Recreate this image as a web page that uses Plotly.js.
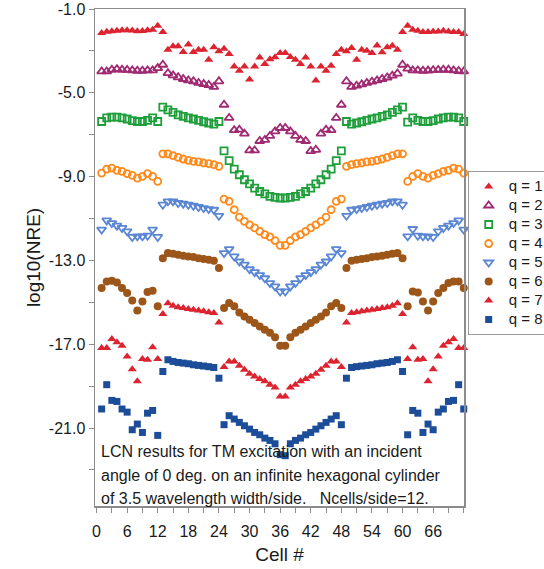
<!DOCTYPE html>
<html><head><meta charset="utf-8">
<script src="https://cdn.plot.ly/plotly-3.0.1.min.js"></script>
<style>html,body{margin:0;padding:0;background:#fff;}#chart{width:544px;height:569px;}</style>
</head><body><div id="chart"></div>
<script>
// Cell numbers (x)
const cells = [1,2,3,4,5,6,7,8,9,10,11,12,13,14,15,16,17,18,19,20,21,22,23,24,
  25,26,27,28,29,30,31,32,33,34,35,36,37,38,39,40,41,42,43,44,45,46,47,48,
  49,50,51,52,53,54,55,56,57,58,59,60,61,62,63,64,65,66,67,68,69,70,71,72];

const seriesNames = ['q = 1','q = 2','q = 3','q = 4','q = 5','q = 6','q = 7','q = 8'];

const q1 = [-2.15,-2.08,-2.06,-2.04,-2.02,-2.02,-2.03,-2.06,-2.05,-2.02,-1.99,-1.80,
  -2.10,-2.94,-2.78,-2.78,-3.05,-2.70,-3.05,-2.94,-2.94,-3.42,-2.83,-3.02,
  -2.90,-3.15,-3.74,-3.95,-3.74,-4.37,-3.74,-3.31,-3.63,-3.40,-3.30,-3.10,
  -3.10,-3.29,-3.42,-3.63,-3.31,-3.74,-4.41,-3.74,-3.95,-3.71,-3.15,-2.94,
  -3.02,-2.86,-3.42,-2.94,-2.99,-3.10,-2.74,-3.07,-2.83,-2.75,-2.94,-2.10,
  -1.80,-1.99,-2.04,-2.10,-2.10,-2.07,-2.07,-2.04,-2.07,-2.10,-2.10,-2.19];
const q2 = [-3.98,-3.98,-3.90,-3.87,-3.90,-3.91,-3.93,-3.95,-3.95,-3.93,-3.93,-3.82,
  -3.66,-4.06,-4.17,-4.26,-4.34,-4.41,-4.45,-4.53,-4.58,-4.63,-4.72,-4.45,
  -5.57,-6.20,-6.78,-6.76,-6.95,-7.75,-7.75,-7.30,-7.25,-7.06,-6.84,-6.68,
  -6.68,-6.84,-7.06,-7.25,-7.30,-7.78,-7.72,-6.95,-6.76,-6.78,-6.20,-5.57,
  -4.45,-4.72,-4.66,-4.60,-4.53,-4.47,-4.41,-4.34,-4.27,-4.18,-4.08,-3.66,
  -3.85,-3.93,-3.93,-3.95,-3.94,-3.92,-3.91,-3.90,-3.90,-3.93,-3.96,-3.98];
const q3 = [-6.37,-6.20,-6.16,-6.16,-6.20,-6.25,-6.33,-6.37,-6.37,-6.32,-6.20,-6.37,
  -5.68,-5.81,-5.93,-6.05,-6.12,-6.20,-6.25,-6.32,-6.38,-6.44,-6.49,-6.37,
  -7.77,-8.24,-8.64,-8.91,-9.15,-9.35,-9.55,-9.71,-9.82,-9.94,-9.99,-10.02,
  -10.02,-9.99,-9.94,-9.82,-9.71,-9.55,-9.35,-9.15,-8.91,-8.64,-8.24,-7.77,
  -6.37,-6.49,-6.44,-6.38,-6.32,-6.25,-6.20,-6.12,-6.05,-5.93,-5.81,-5.68,
  -6.40,-6.20,-6.32,-6.37,-6.37,-6.33,-6.25,-6.20,-6.16,-6.16,-6.20,-6.37];
const q4 = [-8.83,-8.64,-8.59,-8.70,-8.75,-8.86,-8.94,-9.07,-8.99,-8.86,-8.99,-9.23,
  -7.91,-7.91,-8.00,-8.08,-8.16,-8.22,-8.27,-8.30,-8.35,-8.38,-8.43,-8.51,
  -10.07,-10.18,-10.58,-10.93,-11.14,-11.30,-11.45,-11.61,-11.77,-11.88,-12.05,-12.28,
  -12.28,-12.05,-11.88,-11.77,-11.61,-11.45,-11.30,-11.14,-10.93,-10.58,-10.18,-10.07,
  -8.51,-8.43,-8.38,-8.35,-8.30,-8.27,-8.22,-8.16,-8.08,-8.00,-7.91,-7.91,
  -9.23,-8.99,-8.86,-8.99,-9.07,-8.94,-8.86,-8.75,-8.70,-8.59,-8.64,-8.83];
const q5 = [-11.53,-11.09,-11.22,-11.34,-11.45,-11.61,-11.88,-11.85,-11.85,-11.82,-11.53,-11.88,
  -10.34,-10.18,-10.18,-10.26,-10.29,-10.34,-10.39,-10.45,-10.50,-10.55,-10.58,-10.87,
  -12.65,-12.46,-12.81,-13.05,-13.20,-13.42,-13.56,-13.70,-13.85,-14.08,-14.24,-14.48,
  -14.48,-14.24,-14.08,-13.85,-13.70,-13.56,-13.42,-13.20,-13.05,-12.81,-12.46,-12.65,
  -10.87,-10.58,-10.55,-10.50,-10.45,-10.39,-10.34,-10.29,-10.26,-10.18,-10.18,-10.34,
  -11.85,-11.50,-11.82,-11.85,-11.85,-11.88,-11.61,-11.45,-11.34,-11.22,-11.09,-11.53];
const q6 = [-14.32,-14.00,-13.97,-14.05,-14.32,-14.56,-14.91,-15.39,-14.96,-14.51,-14.45,-15.19,
  -12.89,-12.65,-12.68,-12.73,-12.78,-12.81,-12.84,-12.89,-12.93,-12.97,-13.01,-13.36,
  -15.27,-15.03,-15.19,-15.48,-15.67,-15.83,-15.99,-16.15,-16.31,-16.45,-16.67,-17.07,
  -17.07,-16.67,-16.45,-16.31,-16.15,-15.99,-15.83,-15.67,-15.48,-15.19,-15.03,-15.27,
  -13.36,-13.01,-12.97,-12.93,-12.89,-12.84,-12.81,-12.78,-12.73,-12.68,-12.65,-12.89,
  -15.19,-14.48,-14.53,-14.96,-15.39,-14.96,-14.56,-14.32,-14.08,-14.00,-14.00,-14.32];
const q7 = [-17.18,-17.18,-16.75,-16.91,-17.07,-17.58,-18.19,-18.77,-17.71,-17.74,-17.14,-17.71,
  -15.56,-15.04,-15.16,-15.23,-15.27,-15.32,-15.35,-15.39,-15.43,-15.47,-15.51,-15.96,
  -18.09,-17.82,-17.82,-18.03,-18.22,-18.41,-18.54,-18.66,-18.77,-18.93,-19.06,-19.49,
  -19.49,-19.06,-18.93,-18.77,-18.66,-18.54,-18.41,-18.22,-18.03,-17.82,-17.82,-18.09,
  -15.96,-15.51,-15.47,-15.43,-15.39,-15.35,-15.32,-15.27,-15.23,-15.16,-15.04,-15.56,
  -17.71,-17.14,-17.74,-17.71,-18.77,-18.19,-17.58,-17.07,-16.91,-16.75,-17.18,-17.18];
const q8 = [-20.09,-18.93,-19.68,-19.73,-20.09,-20.24,-21.08,-20.81,-21.21,-20.29,-20.16,-21.35,
  -18.30,-17.74,-17.82,-17.87,-17.90,-17.93,-17.98,-18.01,-18.04,-18.07,-18.11,-18.62,
  -20.84,-20.41,-20.57,-20.73,-20.89,-21.05,-21.21,-21.32,-21.48,-21.59,-21.75,-22.27,
  -22.32,-21.75,-21.59,-21.48,-21.32,-21.21,-21.05,-20.89,-20.73,-20.57,-20.41,-20.84,
  -18.62,-18.11,-18.07,-18.04,-18.01,-17.98,-17.93,-17.90,-17.87,-17.82,-17.74,-18.30,
  -21.32,-20.16,-20.29,-21.21,-20.81,-21.08,-20.24,-20.09,-19.73,-19.68,-18.93,-20.09];

const xTickVals = [0,6,12,18,24,30,36,42,48,54,60,66];
const xTickText = ['0','6','12','18','24','30','36','42','48','54','60','66'];
const yTickVals = [-1,-5,-9,-13,-17,-21];
const yTickText = ['-1.0','-5.0','-9.0','-13.0','-17.0','-21.0'];
const noteLines = ['LCN results for TM excitation with an incident',
  'angle of 0 deg. on an infinite hexagonal cylinder',
  'of 3.5 wavelength width/side.   Ncells/side=12.'];

const allSeries = [q1,q2,q3,q4,q5,q6,q7,q8];
const styles = [
  {symbol:'triangle-up', color:'#dc2430', size:8, open:false},
  {symbol:'triangle-up-open', color:'#a02a72', size:8, open:true},
  {symbol:'square-open', color:'#1f9e3c', size:7, open:true},
  {symbol:'circle-open', color:'#ff8a1c', size:7, open:true},
  {symbol:'triangle-down-open', color:'#5a86d4', size:8, open:true},
  {symbol:'circle', color:'#9c5619', size:8, open:false},
  {symbol:'triangle-up', color:'#dc2430', size:8, open:false},
  {symbol:'square', color:'#1d4d98', size:7, open:false}
];

const traces = allSeries.map((ys, i) => ({
  type: 'scatter', mode: 'markers',
  name: '<span style="font-size:15px">' + seriesNames[i] + '</span>',
  x: cells, y: ys, cliponaxis: false,
  marker: {symbol: styles[i].symbol, size: styles[i].size, color: styles[i].color,
    line: {color: styles[i].color, width: styles[i].open ? 1.8 : 0}}
}));

const fnt = 'Liberation Sans, Arial, sans-serif';
const axisCol = '#8c8c8c';
const txtCol = '#1a1a1a';
const annotations = noteLines.map((t, i) => ({
  text: t, xref: 'paper', yref: 'paper', x: 0.012, y: [0.109, 0.062, 0.016][i],
  xanchor: 'left', yanchor: 'middle', showarrow: false,
  font: {family: fnt, size: 16, color: txtCol}
}));

const layout = {
  width: 544, height: 569,
  margin: {l: 95, r: 80, t: 9, b: 63, pad: 0, autoexpand: false},
  paper_bgcolor: '#fff', plot_bgcolor: '#fff',
  showlegend: true,
  legend: {x: 1.01, xanchor: 'left', y: 0.674, yanchor: 'top',
    bordercolor: '#9a9a9a', borderwidth: 1, bgcolor: '#fff',
    font: {family: fnt, size: 11, color: txtCol}, tracegroupgap: 0},
  xaxis: {range: [-0.3, 72.05], showgrid: false, zeroline: false,
    showline: true, linecolor: axisCol, linewidth: 1.5, mirror: true,
    tickmode: 'array', tickvals: xTickVals, ticktext: xTickText,
    ticks: 'outside', ticklen: 5, tickcolor: axisCol, ticklabelstandoff: 5,
    minor: {tickmode: 'linear', tick0: 0, dtick: 3, ticks: 'outside', ticklen: 5, tickcolor: axisCol},
    tickfont: {family: fnt, size: 16, color: txtCol},
    title: {text: 'Cell #', standoff: 9, font: {family: fnt, size: 19, color: txtCol}},
    automargin: false},
  yaxis: {range: [-24.72, -1], showgrid: false, zeroline: false,
    showline: true, linecolor: axisCol, linewidth: 1.5, mirror: true,
    tickmode: 'array', tickvals: yTickVals, ticktext: yTickText,
    ticks: 'outside', ticklen: 5, tickcolor: axisCol,
    minor: {tickmode: 'linear', tick0: -1, dtick: 2, ticks: 'outside', ticklen: 5, tickcolor: axisCol},
    tickfont: {family: fnt, size: 16, color: txtCol},
    title: {text: 'log10(NRE)', standoff: 3, font: {family: fnt, size: 19, color: txtCol}},
    automargin: false},
  annotations: annotations
};

Plotly.newPlot('chart', traces, layout, {displayModeBar: false, staticPlot: true});
</script>
</body></html>
